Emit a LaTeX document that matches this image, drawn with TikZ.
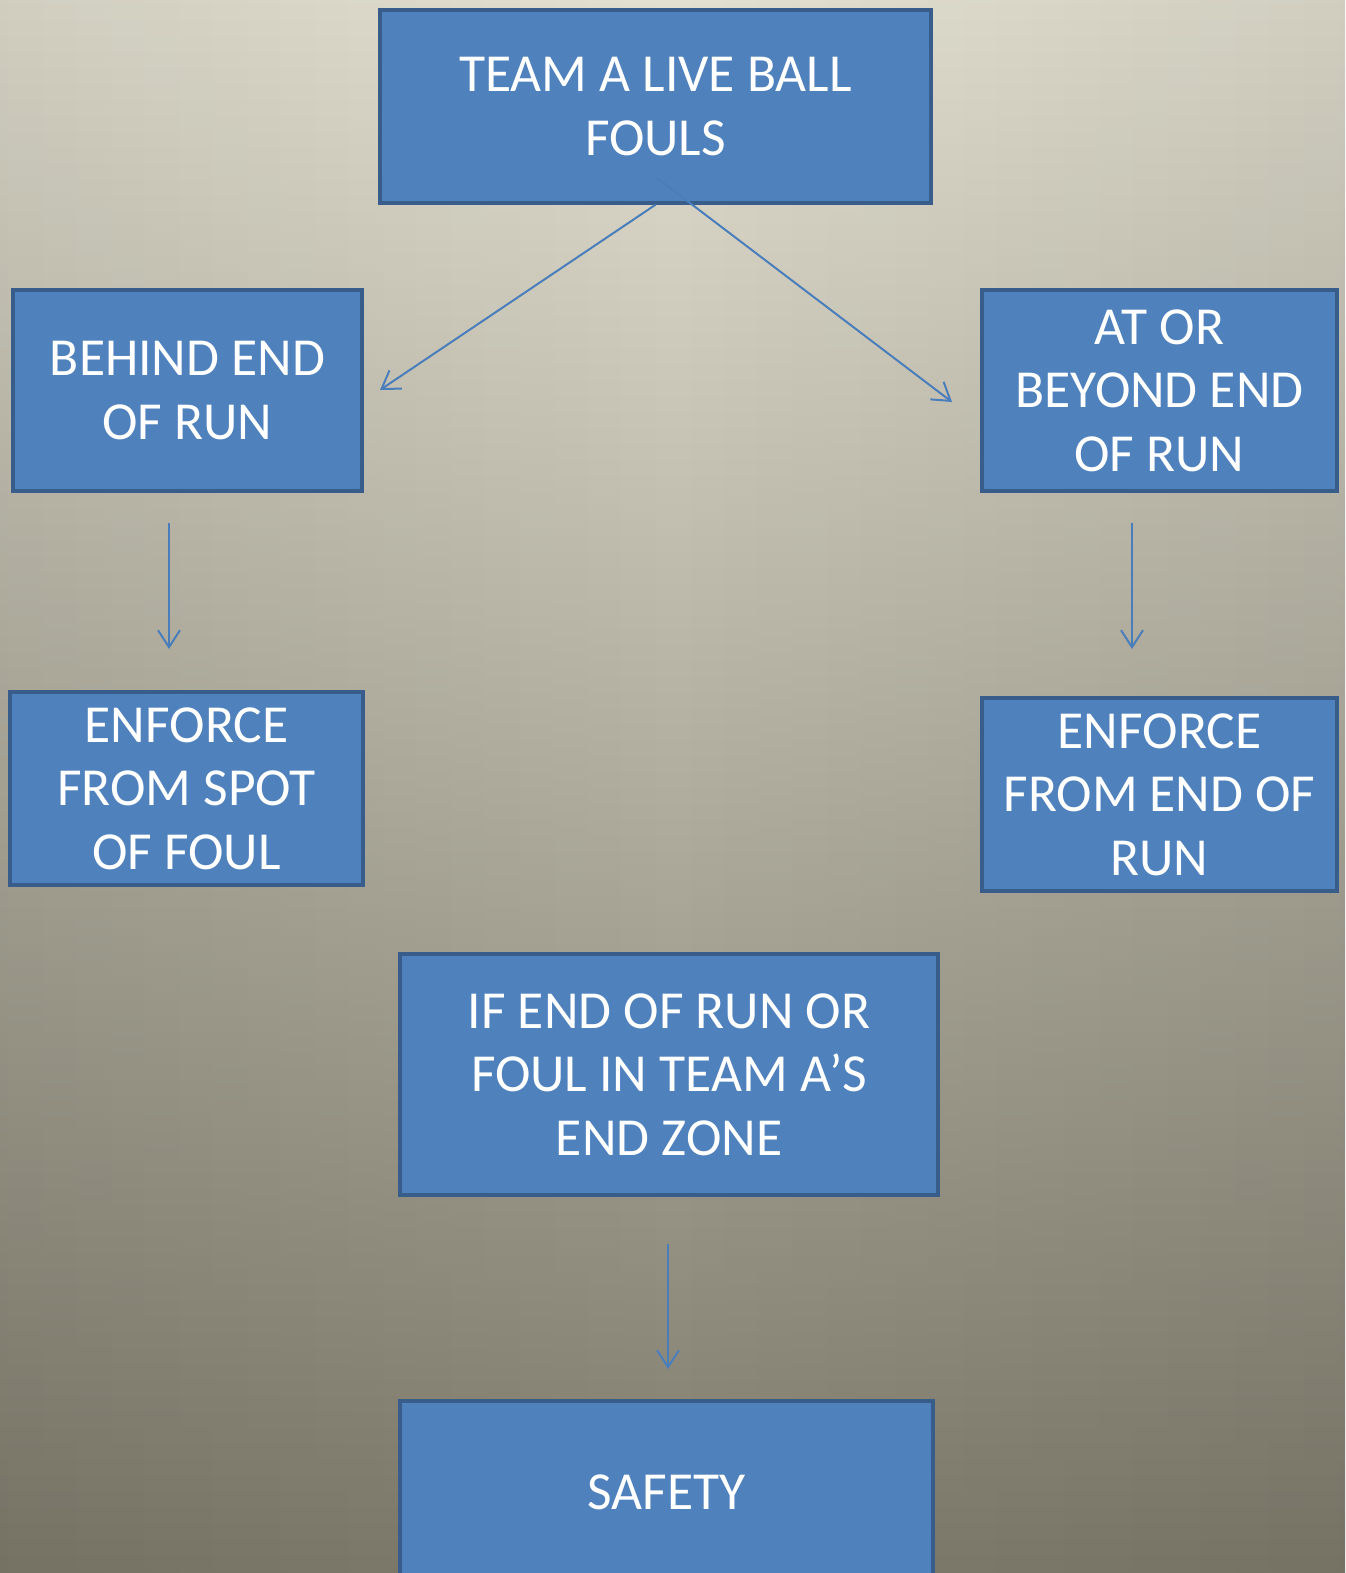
\documentclass[tikz,border=0pt]{standalone}
\usepackage{fontspec}
\setmainfont{Carlito}
\usetikzlibrary{arrows.meta,fadings}
\definecolor{boxfill}{HTML}{4F81BD}
\definecolor{boxline}{HTML}{385D8A}
\definecolor{arrowblue}{HTML}{4A7EBB}
\definecolor{bgtop}{HTML}{E4E1D2}
\definecolor{bgmid}{HTML}{B9B5A4}
\definecolor{bgbot}{HTML}{7E7A6B}
\tikzfading[name=sidefade, left color=transparent!92, right color=transparent!92, middle color=transparent!100]
\begin{document}
\begin{tikzpicture}[x=1pt,y=-1pt,
  box/.style={draw=boxline, line width=3.5pt, fill=boxfill, text=white, align=center,
    font=\fontsize{53.5}{63.5}\selectfont, inner sep=0pt},
  conn/.style={draw=arrowblue, line width=2pt, -{Straight Barb[length=17pt,width=22pt]}}]
\clip (0,0) rectangle (1345,1573);
\useasboundingbox (0,0) rectangle (1345,1573);
\shade[top color=bgtop, middle color=bgmid, bottom color=bgbot] (-20,-20) rectangle (1365,1593);
\fill[black, path fading=sidefade] (-20,-20) rectangle (1365,1593);

\node[box, minimum width=551pt, minimum height=193pt] (top) at (655.5,106.5) {TEAM A LIVE BALL\\FOULS};
\node[box, minimum width=349pt, minimum height=201pt] (behind) at (187.5,390.5) {BEHIND END\\OF RUN};
\node[box, minimum width=355pt, minimum height=201pt] (beyond) at (1159.5,390.5) {AT OR\\BEYOND END\\OF RUN};
\node[box, minimum width=353pt, minimum height=193pt] (spot) at (186.5,788.5) {ENFORCE\\FROM SPOT\\OF FOUL};
\node[box, minimum width=355pt, minimum height=193pt] (endrun) at (1159.5,794.5) {ENFORCE\\FROM END OF\\RUN};
\node[box, minimum width=538pt, minimum height=241pt] (ifend) at (669,1074.5) {IF END OF RUN OR\\FOUL IN TEAM A’S\\END ZONE};
\node[box, minimum width=533pt, minimum height=182pt] (safety) at (666.5,1492) {SAFETY};

\coordinate (a1e) at (380,390);
\coordinate (a2s) at (657,178);
\coordinate (a2e) at (952,402);
\coordinate (v1s) at (169,523);
\coordinate (v1e) at (169,649);
\coordinate (v2s) at (1132,523);
\coordinate (v2e) at (1132,649);
\coordinate (v3s) at (668,1244);
\coordinate (v3e) at (668,1369);

\draw[conn] (top.south) -- (a1e);
\draw[conn] (a2s) -- (a2e);
\draw[conn] (v1s) -- (v1e);
\draw[conn] (v2s) -- (v2e);
\draw[conn] (v3s) -- (v3e);
\end{tikzpicture}
\end{document}
